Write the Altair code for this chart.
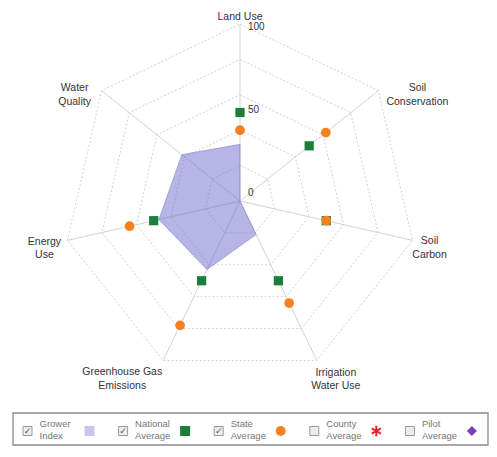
import altair as alt
import pandas as pd

# ---------------- data ----------------
categories = ["Land Use", "Soil Conservation", "Soil Carbon", "Irrigation Water Use",
              "Greenhouse Gas Emissions", "Energy Use", "Water Quality"]
category_labels = ["Land Use", "Soil\nConservation", "Soil\nCarbon", "Irrigation\nWater Use",
                   "Greenhouse Gas\nEmissions", "Energy\nUse", "Water\nQuality"]
grower_index = [32, 0, 0, 21, 43, 47, 42]
national_average = [50, 50, 50, 50, 50, 50, None]
state_average = [40, 62, 50, 64, 78, 64, None]
ring_levels = [20, 40, 60, 80, 100]
tick_values = [0, 50, 100]
legend_names = ["Grower\nIndex", "National\nAverage", "State\nAverage", "County\nAverage", "Pilot\nAverage"]
legend_keys = ["grower", "national", "state", "county", "pilot"]
legend_checked = [True, True, True, False, False]

N = len(categories)
FONT = "Liberation Sans"
PXU = 1.77  # pixels per index point

# ---------------- tables ----------------
grower_df = pd.DataFrame({"idx": list(range(N)) + [N],
                          "value": grower_index + [grower_index[0]]})
nat_df = pd.DataFrame({"idx": range(N), "value": national_average}).dropna()
state_df = pd.DataFrame({"idx": range(N), "value": state_average}).dropna()
rings_df = pd.DataFrame([{"ring": lv, "idx": i, "value": lv}
                         for lv in ring_levels for i in range(N + 1)])
spokes_df = pd.DataFrame({"idx": range(N), "value": [100] * N})
ticks_df = pd.DataFrame({"idx": [0] * len(tick_values), "value": tick_values,
                         "label": [str(t) for t in tick_values]})
labels_df = pd.DataFrame({"idx": range(N), "value": [100] * N,
                          "cat": categories, "label": category_labels})
legend_df = pd.DataFrame({"i": range(len(legend_names)), "name": legend_names,
                          "key": legend_keys, "checked": legend_checked})

xs = alt.Scale(domain=[-232, 249], nice=False, zero=False)
ys = alt.Scale(domain=[-245, 193], nice=False, zero=False)


def polar(ch):
    return ch.transform_calculate(
        x=f"{PXU} * datum.value * sin(datum.idx * 2 * PI / {N})",
        y=f"{PXU} * datum.value * cos(datum.idx * 2 * PI / {N})",
    )


X = alt.X("x:Q", scale=xs, axis=None)
Y = alt.Y("y:Q", scale=ys, axis=None)

rings = polar(alt.Chart(rings_df)).mark_line(
    color="#d2d2d2", strokeWidth=1, strokeDash=[2, 2]
).encode(x=X, y=Y, detail="ring:N", order="idx:Q")

spokes = polar(alt.Chart(spokes_df)).transform_calculate(x0="0", y0="0").mark_rule(
    color="#d2d2d2", strokeWidth=1
).encode(x=alt.X("x0:Q", scale=xs, axis=None), y=alt.Y("y0:Q", scale=ys, axis=None),
         x2="x:Q", y2="y:Q")

grower = polar(alt.Chart(grower_df)).mark_line(
    fill="#6965c9", fillOpacity=0.48, stroke="#8f8bd8", strokeWidth=1, strokeOpacity=0.7
).encode(x=X, y=Y, order="idx:Q")

national = polar(alt.Chart(nat_df)).mark_point(
    shape="square", filled=True, color="#1b7f3a", size=85, opacity=1
).encode(x=X, y=Y)

state = polar(alt.Chart(state_df)).mark_point(
    shape="circle", filled=True, color="#f5821f", size=95, opacity=1
).encode(x=X, y=Y)

tick_dy = [-8, -2.5, 3]
tick_layers = []
for tv, tdy in zip(tick_values, tick_dy):
    tick_layers.append(
        polar(alt.Chart(ticks_df)).transform_filter(alt.datum.value == tv).mark_text(
            align="left", baseline="middle", dx=8, dy=tdy, font=FONT, fontSize=10, color="#333"
        ).encode(x=X, y=Y, text="label:N")
    )

label_offsets = [(0, -7), (39, -2.5), (17, 1), (19, 12.5), (-41, 12), (-23, 1.5), (-27, -2.5)]
cat_layers = []
for cat, (ddx, ddy) in zip(categories, label_offsets):
    cat_layers.append(
        polar(alt.Chart(labels_df)).transform_filter(alt.datum.cat == cat).mark_text(
            align="center", baseline="middle", lineBreak="\n", lineHeight=13.5,
            dx=ddx, dy=ddy, font=FONT, fontSize=10.5, color="#333"
        ).encode(x=X, y=Y, text="label:N")
    )

# ---------------- legend ----------------
leg = alt.Chart(legend_df).transform_calculate(
    lx="-212.5 + datum.i * 95.6", ly="-230", sx="-150.5 + datum.i * 95.6"
)
LX = alt.X("lx:Q", scale=xs, axis=None)
LY = alt.Y("ly:Q", scale=ys, axis=None)
SX = alt.X("sx:Q", scale=xs, axis=None)

frame = alt.Chart(pd.DataFrame({"a": [0]})).mark_rect(
    fillOpacity=0, stroke="#8a8a8a", strokeWidth=1.3
).encode(x=alt.value(5), x2=alt.value(480), y=alt.value(405), y2=alt.value(437))

boxes = leg.mark_point(shape="square", filled=True, fill="#ececec", stroke="#9a9a9a",
                       strokeWidth=1, size=81, opacity=1).encode(x=LX, y=LY)
checks = leg.transform_filter("datum.checked").mark_text(
    text="✓", font="DejaVu Sans", fontSize=9, color="#555", baseline="middle", align="center"
).encode(x=LX, y=LY)
leg_text = leg.mark_text(
    align="left", baseline="middle", lineBreak="\n", lineHeight=12, dx=12, dy=-7,
    font=FONT, fontSize=9.5, color="#777"
).encode(x=LX, y=LY, text="name:N")

sw_keys = ["grower", "national", "state", "pilot"]
swatches = leg.transform_filter(alt.FieldOneOfPredicate(field="key", oneOf=sw_keys)).mark_point(
    filled=True, opacity=1
).encode(
    x=SX, y=LY,
    shape=alt.Shape("key:N", scale=alt.Scale(domain=sw_keys,
                    range=["square", "square", "circle", "diamond"]), legend=None),
    color=alt.Color("key:N", scale=alt.Scale(domain=sw_keys,
                    range=["#c9c6ee", "#1b7f3a", "#f5821f", "#7b3fb5"]), legend=None),
    size=alt.Size("key:N", scale=alt.Scale(domain=sw_keys, range=[100, 100, 125, 120]), legend=None),
)
asterisk = leg.transform_filter(alt.datum.key == "county").mark_point(
    shape="M0,-1L0,1M-0.87,-0.5L0.87,0.5M-0.87,0.5L0.87,-0.5",
    filled=False, stroke="#e3242b", strokeWidth=2, size=110, opacity=1
).encode(x=SX, y=LY)

chart = alt.layer(
    rings, spokes, grower, national, state, *tick_layers, *cat_layers,
    frame, boxes, checks, leg_text, swatches, asterisk
).properties(
    width=481, height=438, padding=0, autosize=alt.AutoSizeParams(type="none")
).configure_view(strokeWidth=0)

chart.save("out.html", embed_options={"renderer": "svg", "actions": False})
